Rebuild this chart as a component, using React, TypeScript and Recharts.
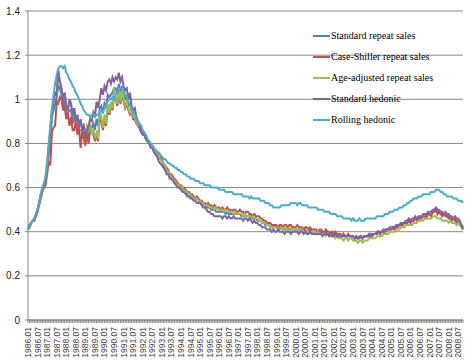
import React from "react";
import { CartesianGrid, Line, LineChart, XAxis, YAxis } from "recharts";

// monthly, 1986.01 .. 2008.10
const years = [
  1986, 1987, 1988, 1989, 1990, 1991, 1992, 1993, 1994, 1995, 1996, 1997,
  1998, 1999, 2000, 2001, 2002, 2003, 2004, 2005, 2006, 2007, 2008,
];
const monthCodes = ["01", "02", "03", "04", "05", "06", "07", "08", "09", "10", "11", "12"];
const months: string[] = years
  .flatMap((y) => monthCodes.map((m) => `${y}.${m}`))
  .slice(0, 274);

const yTicks = [0, 0.2, 0.4, 0.6, 0.8, 1, 1.2, 1.4];

const standardRepeat = [
  0.41, 0.42, 0.44, 0.45, 0.46, 0.47, 0.5, 0.53, 0.56, 0.59, 0.61, 0.63,
  0.68, 0.75, 0.8, 0.92, 0.95, 0.98, 1.01, 1.06, 1.05, 1.02, 0.97, 1.0,
  0.94, 0.94, 0.95, 0.95, 0.89, 0.92, 0.89, 0.89, 0.86, 0.86, 0.86, 0.85,
  0.82, 0.85, 0.84, 0.88, 0.87, 0.89, 0.86, 0.91, 0.88, 0.96, 0.97, 0.94,
  0.98, 0.96, 1.02, 1.01, 1.02, 1.03, 1.05, 1.05, 1.03, 1.07, 1.03, 1.06,
  1.02, 1.0, 1.01, 0.97, 0.98, 0.95, 0.93, 0.93, 0.9, 0.89, 0.87, 0.85,
  0.84, 0.84, 0.82, 0.81, 0.8, 0.79, 0.78, 0.77, 0.76, 0.75, 0.73, 0.73,
  0.72, 0.7, 0.69, 0.68, 0.67, 0.65, 0.65, 0.64, 0.63, 0.62, 0.61, 0.61,
  0.6, 0.59, 0.59, 0.58, 0.57, 0.57, 0.56, 0.56, 0.55, 0.55, 0.55, 0.54,
  0.54, 0.53, 0.52, 0.52, 0.51, 0.51, 0.51, 0.5, 0.5, 0.5, 0.49, 0.49,
  0.49, 0.49, 0.49, 0.49, 0.48, 0.49, 0.48, 0.48, 0.48, 0.48, 0.48, 0.48,
  0.48, 0.48, 0.47, 0.47, 0.47, 0.47, 0.47, 0.47, 0.47, 0.46, 0.46, 0.46,
  0.45, 0.45, 0.45, 0.44, 0.44, 0.43, 0.43, 0.43, 0.42, 0.42, 0.42, 0.42,
  0.42, 0.41, 0.42, 0.42, 0.41, 0.41, 0.41, 0.41, 0.41, 0.41, 0.41, 0.41,
  0.41, 0.41, 0.41, 0.41, 0.41, 0.4, 0.41, 0.4, 0.4, 0.41, 0.4, 0.4,
  0.4, 0.4, 0.39, 0.4, 0.4, 0.39, 0.39, 0.4, 0.39, 0.39, 0.39, 0.39,
  0.39, 0.39, 0.38, 0.38, 0.38, 0.38, 0.38, 0.38, 0.38, 0.38, 0.38, 0.38,
  0.38, 0.37, 0.37, 0.37, 0.37, 0.38, 0.37, 0.38, 0.38, 0.38, 0.38, 0.38,
  0.38, 0.39, 0.39, 0.39, 0.4, 0.39, 0.4, 0.4, 0.4, 0.41, 0.41, 0.41,
  0.41, 0.42, 0.41, 0.42, 0.42, 0.43, 0.43, 0.43, 0.44, 0.44, 0.44, 0.45,
  0.44, 0.45, 0.45, 0.46, 0.46, 0.46, 0.46, 0.47, 0.47, 0.47, 0.47, 0.48,
  0.48, 0.48, 0.49, 0.49, 0.5, 0.49, 0.49, 0.48, 0.48, 0.48, 0.48, 0.47,
  0.47, 0.46, 0.46, 0.46, 0.46, 0.45, 0.45, 0.44, 0.43, 0.42,
];

const caseShiller = [
  0.41, 0.42, 0.44, 0.45, 0.45, 0.47, 0.49, 0.52, 0.55, 0.58, 0.6, 0.61,
  0.66, 0.72, 0.7, 0.85, 0.87, 0.88, 0.99, 0.98, 1.01, 1.0, 0.95, 0.97,
  0.91, 0.94, 0.88, 0.92, 0.86, 0.86, 0.9, 0.84, 0.87, 0.78, 0.86, 0.82,
  0.79, 0.84, 0.8, 0.86, 0.85, 0.84, 0.81, 0.84, 0.81, 0.92, 0.9, 0.86,
  0.91, 0.88, 0.96, 0.93, 0.98, 0.95, 1.03, 1.0, 0.97, 1.03, 0.98, 1.02,
  0.99, 0.96, 0.98, 0.95, 0.93, 0.94, 0.91, 0.91, 0.89, 0.88, 0.87, 0.85,
  0.84, 0.84, 0.82, 0.81, 0.81, 0.79, 0.79, 0.77, 0.77, 0.76, 0.74, 0.74,
  0.73, 0.71, 0.7, 0.69, 0.68, 0.66, 0.66, 0.65, 0.64, 0.63, 0.62, 0.61,
  0.61, 0.6, 0.6, 0.59, 0.58, 0.58, 0.57, 0.57, 0.56, 0.55, 0.56, 0.55,
  0.54, 0.54, 0.53, 0.53, 0.52, 0.53, 0.52, 0.52, 0.51, 0.52, 0.51, 0.51,
  0.51, 0.5, 0.51, 0.5, 0.5, 0.51, 0.5, 0.5, 0.49, 0.5, 0.5, 0.49,
  0.49, 0.5, 0.49, 0.49, 0.48, 0.49, 0.49, 0.48, 0.48, 0.47, 0.48, 0.47,
  0.47, 0.47, 0.46, 0.46, 0.45, 0.45, 0.44, 0.44, 0.44, 0.43, 0.43, 0.43,
  0.43, 0.42, 0.43, 0.43, 0.42, 0.43, 0.43, 0.42, 0.43, 0.43, 0.42, 0.42,
  0.42, 0.43, 0.42, 0.42, 0.42, 0.41, 0.42, 0.42, 0.41, 0.42, 0.41, 0.41,
  0.41, 0.41, 0.4, 0.41, 0.41, 0.4, 0.4, 0.41, 0.4, 0.4, 0.39, 0.4,
  0.39, 0.4, 0.39, 0.39, 0.39, 0.38, 0.39, 0.38, 0.38, 0.39, 0.38, 0.38,
  0.38, 0.37, 0.38, 0.37, 0.37, 0.38, 0.37, 0.38, 0.38, 0.38, 0.38, 0.39,
  0.38, 0.39, 0.39, 0.39, 0.4, 0.39, 0.4, 0.4, 0.4, 0.41, 0.41, 0.41,
  0.41, 0.42, 0.41, 0.42, 0.42, 0.43, 0.43, 0.43, 0.44, 0.44, 0.44, 0.45,
  0.44, 0.45, 0.45, 0.46, 0.45, 0.46, 0.46, 0.46, 0.47, 0.47, 0.46, 0.48,
  0.48, 0.47, 0.49, 0.49, 0.5, 0.48, 0.49, 0.48, 0.47, 0.48, 0.47, 0.47,
  0.46, 0.46, 0.45, 0.46, 0.45, 0.44, 0.45, 0.44, 0.43, 0.42,
];

const ageAdjusted = [
  0.41, 0.43, 0.44, 0.45, 0.46, 0.48, 0.5, 0.53, 0.57, 0.59, 0.61, 0.64,
  0.7, 0.78, 0.85, 0.95, 0.99, 1.03, 1.02, 1.13, 1.08, 1.05, 0.99, 1.03,
  0.97, 0.95, 1.0, 0.98, 0.92, 0.96, 0.9, 0.93, 0.87, 0.91, 0.86, 0.88,
  0.84, 0.88, 0.86, 0.89, 0.84, 0.86, 0.83, 0.85, 0.82, 0.95, 0.92, 0.87,
  0.93, 0.89, 0.98, 0.94, 0.99, 0.96, 1.05, 1.01, 0.98, 1.05, 0.99, 1.04,
  1.0, 0.97, 0.99, 0.96, 0.94, 0.95, 0.92, 0.92, 0.9, 0.88, 0.88, 0.86,
  0.85, 0.84, 0.82, 0.81, 0.8, 0.79, 0.78, 0.77, 0.76, 0.75, 0.74, 0.73,
  0.72, 0.71, 0.7, 0.68, 0.67, 0.66, 0.65, 0.64, 0.63, 0.62, 0.61, 0.61,
  0.6, 0.6, 0.59, 0.58, 0.58, 0.57, 0.57, 0.56, 0.55, 0.55, 0.55, 0.54,
  0.54, 0.53, 0.53, 0.52, 0.52, 0.52, 0.51, 0.51, 0.51, 0.5, 0.51, 0.5,
  0.5, 0.5, 0.5, 0.49, 0.5, 0.49, 0.49, 0.49, 0.49, 0.48, 0.49, 0.48,
  0.48, 0.48, 0.48, 0.47, 0.48, 0.47, 0.47, 0.47, 0.46, 0.47, 0.46, 0.46,
  0.46, 0.45, 0.45, 0.44, 0.44, 0.44, 0.43, 0.43, 0.42, 0.42, 0.42, 0.42,
  0.42, 0.42, 0.41, 0.42, 0.41, 0.42, 0.41, 0.41, 0.42, 0.41, 0.41, 0.41,
  0.41, 0.41, 0.41, 0.4, 0.41, 0.4, 0.4, 0.41, 0.4, 0.4, 0.4, 0.4,
  0.4, 0.39, 0.4, 0.39, 0.39, 0.39, 0.39, 0.38, 0.39, 0.38, 0.38, 0.38,
  0.38, 0.37, 0.38, 0.37, 0.37, 0.37, 0.36, 0.37, 0.37, 0.36, 0.37, 0.37,
  0.36, 0.36, 0.36, 0.35, 0.36, 0.36, 0.35, 0.36, 0.36, 0.36, 0.37, 0.37,
  0.37, 0.37, 0.37, 0.38, 0.38, 0.38, 0.38, 0.39, 0.39, 0.39, 0.39, 0.4,
  0.4, 0.4, 0.4, 0.41, 0.41, 0.41, 0.42, 0.42, 0.42, 0.43, 0.43, 0.43,
  0.43, 0.43, 0.44, 0.44, 0.44, 0.45, 0.45, 0.45, 0.45, 0.46, 0.46, 0.46,
  0.46, 0.46, 0.47, 0.47, 0.47, 0.46, 0.46, 0.46, 0.45, 0.45, 0.45, 0.45,
  0.44, 0.45, 0.44, 0.44, 0.44, 0.43, 0.44, 0.43, 0.42, 0.41,
];

const standardHedonic = [
  0.41, 0.43, 0.44, 0.45, 0.46, 0.48, 0.5, 0.53, 0.57, 0.59, 0.61, 0.64,
  0.7, 0.78, 0.85, 0.95, 0.99, 1.03, 1.02, 1.13, 1.08, 1.05, 0.99, 1.03,
  0.97, 0.95, 1.0, 0.98, 0.92, 0.96, 0.9, 0.93, 0.87, 0.91, 0.86, 0.88,
  0.84, 0.85, 0.88, 0.91, 0.9, 0.94, 0.92, 0.99, 0.96, 1.0, 1.05, 1.02,
  1.06, 1.04, 1.08, 1.09, 1.07, 1.1, 1.08, 1.1, 1.09, 1.12, 1.08, 1.1,
  1.06, 1.04, 1.05, 1.0, 1.03, 0.97, 0.95, 0.96, 0.92, 0.9, 0.88, 0.86,
  0.84, 0.84, 0.82, 0.81, 0.8, 0.78, 0.78, 0.76, 0.75, 0.74, 0.72, 0.71,
  0.7, 0.69, 0.68, 0.66, 0.66, 0.64, 0.64, 0.63, 0.62, 0.61, 0.6, 0.6,
  0.59, 0.58, 0.58, 0.57, 0.56, 0.56, 0.55, 0.55, 0.54, 0.54, 0.53, 0.53,
  0.53, 0.52, 0.51, 0.51, 0.5, 0.49, 0.49, 0.48, 0.48, 0.47, 0.47, 0.47,
  0.47, 0.47, 0.46, 0.47, 0.47, 0.46, 0.47, 0.46, 0.46, 0.47, 0.46, 0.46,
  0.46, 0.46, 0.46, 0.45, 0.46, 0.46, 0.45, 0.46, 0.45, 0.44, 0.45, 0.44,
  0.44, 0.43, 0.43, 0.42, 0.42, 0.42, 0.41, 0.41, 0.41, 0.4, 0.41, 0.4,
  0.4, 0.41, 0.4, 0.4, 0.4, 0.39, 0.4, 0.4, 0.4, 0.39, 0.4, 0.4,
  0.4, 0.4, 0.39, 0.4, 0.4, 0.39, 0.4, 0.39, 0.39, 0.4, 0.39, 0.39,
  0.39, 0.39, 0.39, 0.39, 0.39, 0.38, 0.39, 0.39, 0.39, 0.38, 0.39, 0.38,
  0.38, 0.39, 0.38, 0.38, 0.38, 0.38, 0.39, 0.38, 0.38, 0.38, 0.38, 0.38,
  0.38, 0.37, 0.38, 0.37, 0.38, 0.38, 0.37, 0.38, 0.38, 0.38, 0.39, 0.38,
  0.39, 0.39, 0.39, 0.4, 0.4, 0.4, 0.4, 0.41, 0.41, 0.41, 0.41, 0.42,
  0.42, 0.42, 0.42, 0.43, 0.43, 0.43, 0.44, 0.44, 0.44, 0.45, 0.45, 0.46,
  0.45, 0.46, 0.46, 0.47, 0.46, 0.47, 0.47, 0.47, 0.48, 0.48, 0.48, 0.49,
  0.49, 0.49, 0.5, 0.5, 0.51, 0.5, 0.5, 0.49, 0.49, 0.48, 0.49, 0.48,
  0.48, 0.47, 0.47, 0.46, 0.47, 0.46, 0.46, 0.45, 0.43, 0.41,
];

const rollingHedonic = [
  0.41, 0.42, 0.44, 0.45, 0.46, 0.48, 0.5, 0.53, 0.57, 0.6, 0.62, 0.65,
  0.72, 0.8, 0.88, 0.95, 1.02, 1.07, 1.11, 1.14, 1.15, 1.15, 1.14, 1.15,
  1.12, 1.11, 1.09, 1.08, 1.06, 1.05, 1.03, 1.02, 1.0, 0.98, 0.97, 0.95,
  0.94, 0.93, 0.93, 0.92, 0.93, 0.93, 0.92, 0.93, 0.93, 0.94, 0.95, 0.94,
  0.96, 0.98, 0.99, 1.0, 1.0, 1.01, 1.0, 1.02, 1.03, 1.04, 1.05, 1.05,
  1.04, 1.02, 1.01, 0.99, 0.97, 0.96, 0.94, 0.93, 0.91, 0.9, 0.89, 0.88,
  0.86, 0.85, 0.84, 0.82, 0.81, 0.8, 0.79, 0.78, 0.77, 0.76, 0.76, 0.75,
  0.74, 0.73, 0.73, 0.72, 0.71, 0.71, 0.7, 0.7, 0.69, 0.69, 0.68, 0.68,
  0.67, 0.67, 0.66, 0.66, 0.65, 0.65, 0.64, 0.64, 0.64, 0.63, 0.63, 0.63,
  0.62, 0.62, 0.62, 0.61, 0.61, 0.61, 0.61, 0.6, 0.6, 0.6, 0.6, 0.6,
  0.59, 0.59, 0.59, 0.59, 0.58, 0.58, 0.58, 0.58, 0.58, 0.57, 0.57, 0.57,
  0.57, 0.57, 0.57, 0.56, 0.56, 0.56, 0.56, 0.55, 0.56, 0.55, 0.55, 0.55,
  0.55, 0.55, 0.54, 0.54, 0.54, 0.53, 0.53, 0.53, 0.52, 0.52, 0.51, 0.51,
  0.51, 0.51, 0.51, 0.52, 0.52, 0.52, 0.52, 0.52, 0.52, 0.53, 0.53, 0.53,
  0.53, 0.52, 0.53, 0.53, 0.52, 0.52, 0.52, 0.52, 0.51, 0.51, 0.51, 0.51,
  0.51, 0.51, 0.5, 0.5, 0.5, 0.5, 0.49, 0.49, 0.49, 0.49, 0.48, 0.48,
  0.48, 0.48, 0.47, 0.47, 0.47, 0.47, 0.46, 0.46, 0.46, 0.46, 0.46, 0.45,
  0.46, 0.45, 0.45, 0.45, 0.46, 0.45, 0.45, 0.45, 0.46, 0.46, 0.46, 0.46,
  0.46, 0.46, 0.46, 0.47, 0.47, 0.47, 0.47, 0.47, 0.48, 0.48, 0.48, 0.49,
  0.49, 0.49, 0.5, 0.5, 0.5, 0.51, 0.51, 0.51, 0.52, 0.52, 0.53, 0.53,
  0.54, 0.54, 0.55, 0.55, 0.55, 0.56, 0.56, 0.56, 0.57, 0.57, 0.57, 0.57,
  0.57, 0.58, 0.58, 0.58, 0.59, 0.59, 0.59, 0.58, 0.58, 0.57, 0.57, 0.56,
  0.56, 0.56, 0.56, 0.55, 0.55, 0.55, 0.54, 0.54, 0.54, 0.53,
];

const seriesNames = [
  "Standard repeat sales",
  "Case-Shiller repeat sales",
  "Age-adjusted repeat sales",
  "Standard hedonic",
  "Rolling hedonic",
];
const seriesColors = ["#4F81BD", "#C0504D", "#9BBB59", "#8064A2", "#4BACC6"];
const seriesValues = [standardRepeat, caseShiller, ageAdjusted, standardHedonic, rollingHedonic];

const data = months.map((label, i) => {
  const row: Record<string, string | number> = { label };
  seriesNames.forEach((name, s) => {
    row[name] = seriesValues[s][i];
  });
  return row;
});

const MonthTick = (props: any) => {
  const { x, y, payload, index } = props;
  if (index % 6 !== 0) return null;
  return (
    <g transform={`translate(${x},${y})`}>
      <text
        transform="rotate(-90)"
        x={-2}
        y={0}
        dy={3}
        textAnchor="end"
        fontSize={8.5}
        fontFamily="Liberation Sans, Arial, sans-serif"
        fill="#404040"
      >
        {payload.value}
      </text>
    </g>
  );
};

export default function App() {
  return (
    <div style={{ position: "absolute", left: 0, top: 0, width: 473, height: 361, background: "#fff" }}>
      <LineChart
        width={473}
        height={361}
        data={data}
        margin={{ top: 11, right: 10, left: 0, bottom: 0 }}
      >
        <CartesianGrid vertical={false} stroke="#868686" strokeWidth={1} />
        <XAxis
          dataKey="label"
          interval={0}
          height={41}
          tick={<MonthTick />}
          tickSize={3}
          tickLine={{ stroke: "#868686" }}
          axisLine={{ stroke: "#868686" }}
        />
        <YAxis
          width={28}
          domain={[0, 1.4]}
          ticks={yTicks}
          tickSize={3}
          tickMargin={5}
          tickLine={{ stroke: "#868686" }}
          axisLine={{ stroke: "#868686" }}
          tick={{ fontSize: 10, fill: "#222", fontFamily: "Liberation Sans, Arial, sans-serif" }}
        />
        {seriesNames.map((name, i) => (
          <Line
            key={name}
            type="linear"
            dataKey={name}
            stroke={seriesColors[i]}
            strokeWidth={2}
            dot={false}
            isAnimationActive={false}
          />
        ))}
      </LineChart>
      <div
        style={{
          position: "absolute",
          left: 313,
          top: 25,
          fontFamily: "Liberation Serif, Times New Roman, serif",
          fontSize: 10,
          color: "#000",
          pointerEvents: "none",
        }}
      >
        {seriesNames.map((name, i) => (
          <div key={name} style={{ display: "flex", alignItems: "center", height: 21 }}>
            <span style={{ display: "inline-block", width: 17, height: 2, background: seriesColors[i] }} />
            <span style={{ marginLeft: 1, whiteSpace: "nowrap" }}>{name}</span>
          </div>
        ))}
      </div>
    </div>
  );
}
